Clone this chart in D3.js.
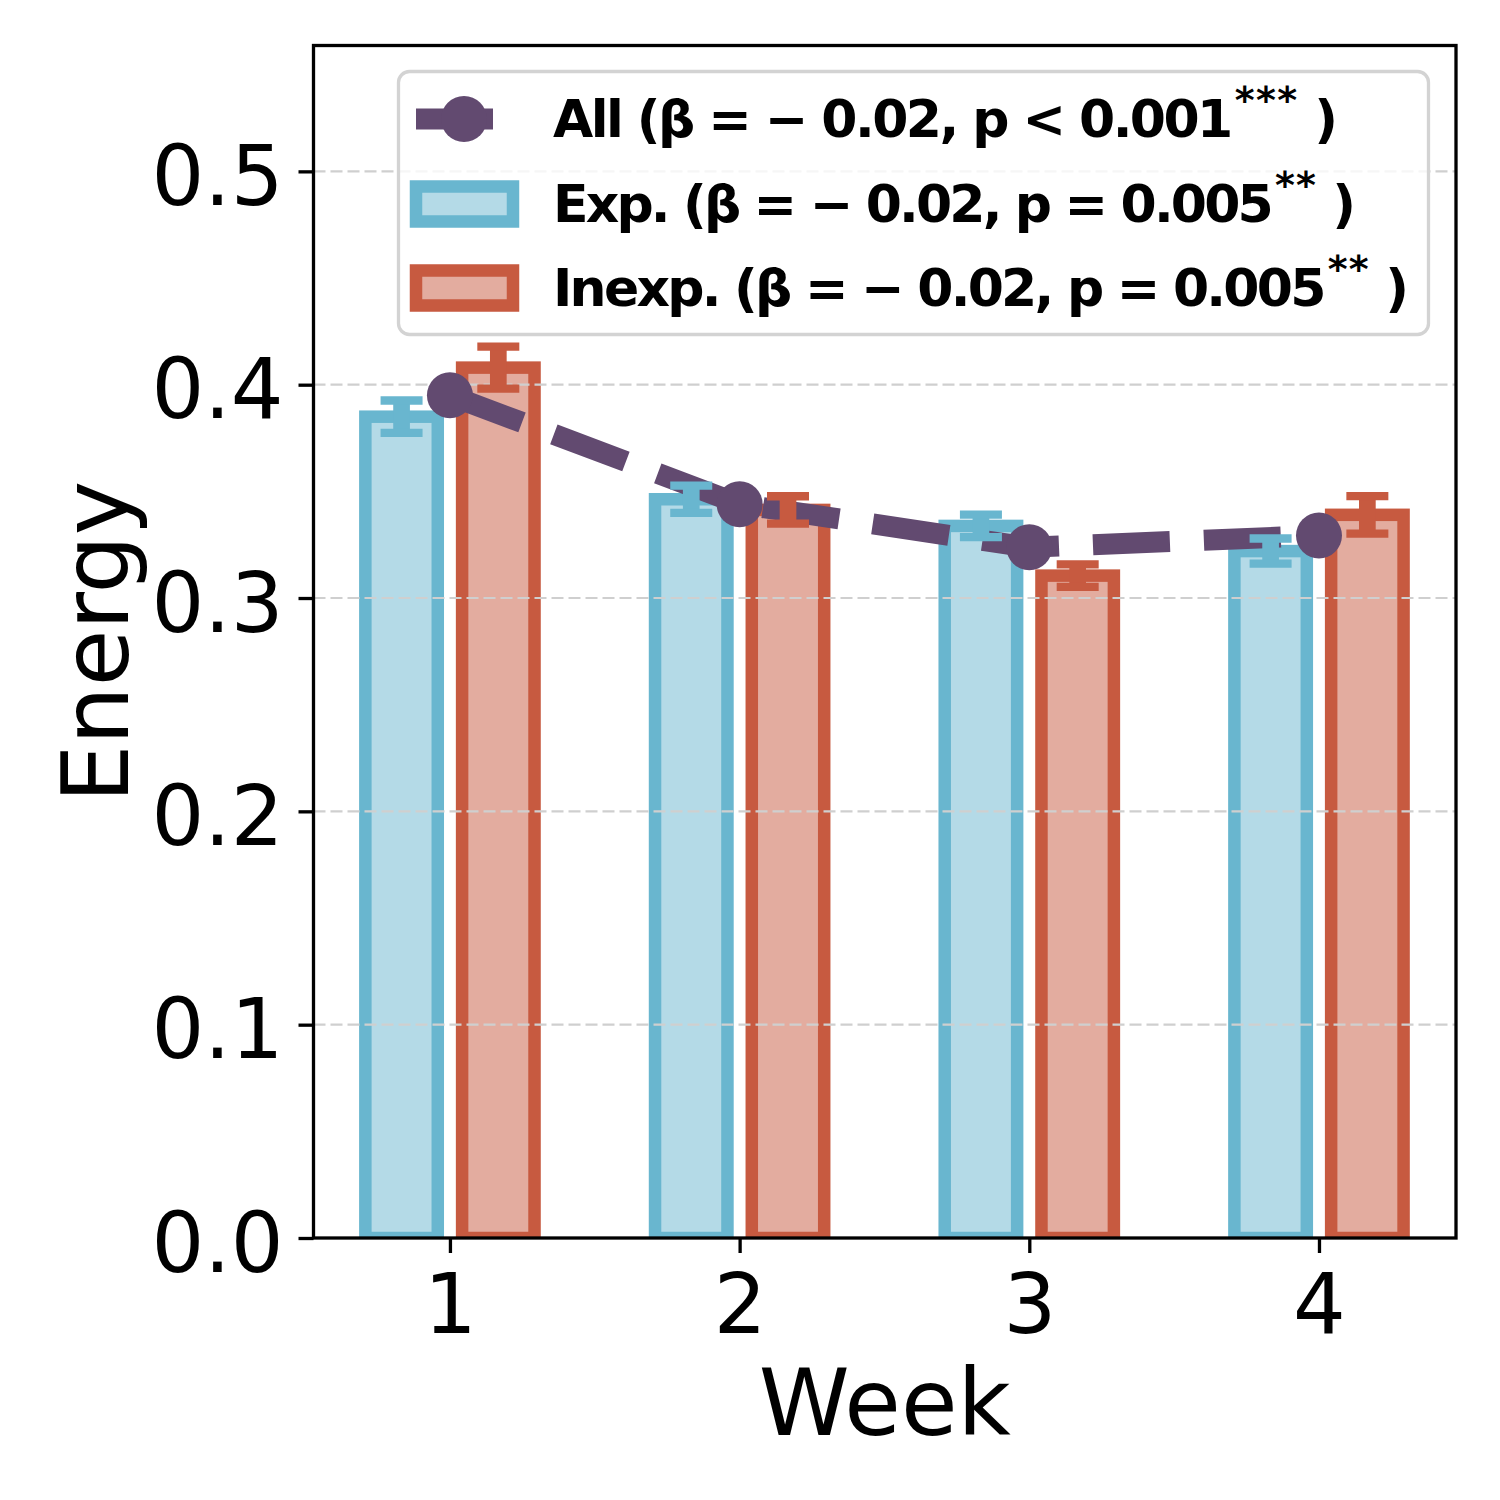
<!DOCTYPE html>
<html>
<head>
<meta charset="utf-8">
<script src="https://cdn.jsdelivr.net/npm/d3@7"></script>
<style>
  body { margin: 0; background: #fff; }
  svg { display: block; font-family: 'DejaVu Sans', sans-serif; }
</style>
</head>
<body>
<svg id="chart" width="1500" height="1500"></svg>
<script>
// Data
const weeks = [1, 2, 3, 4];
const allMean = [0.395, 0.344, 0.3238, 0.3293];
const expMean = [0.385, 0.3463, 0.3338, 0.322];
const expErr = [0.0076, 0.0064, 0.0053, 0.0059];
const inexpMean = [0.408, 0.3413, 0.3105, 0.339];
const inexpErr = [0.0098, 0.0064, 0.0053, 0.0088];
const yTicks = [0, 0.1, 0.2, 0.3, 0.4, 0.5];
const legendText = [
  'All (β = − 0.02, p < 0.001',
  'Exp. (β = − 0.02, p = 0.005',
  'Inexp. (β = − 0.02, p = 0.005',
];
const legendStars = ['***', '**', '**'];

const COLORS = { all: '#624a70', exp: '#69b6cf', inexp: '#c75a40' };

class EnergyChart {
  constructor(_config) {
    this.config = {
      parentElementSelector: _config.parentElementSelector,
      margin: _config.margin || { top: 45.5, right: 44, bottom: 262, left: 313.5 },
      totalWidth: 1500,
      totalHeight: 1500,
    };
    this.initVis();
  }

  initVis() {
    const m = this.config.margin;
    this.width = this.config.totalWidth - m.left - m.right;
    this.height = this.config.totalHeight - m.top - m.bottom;

    this.xScale = d3.scaleLinear().domain([0.529, 4.473]).range([0, this.width]);
    this.yScale = d3.scaleLinear().domain([0, 0.559]).range([this.height, 0]);

    this.svg = d3.select(this.config.parentElementSelector);
    this.chart = this.svg
      .append('g')
      .attr('transform', `translate(${m.left},${m.top})`);

    this.svg
      .append('defs')
      .append('clipPath')
      .attr('id', 'plot-clip')
      .append('rect')
      .attr('width', this.width)
      .attr('height', this.height);

    this.updateVis();
  }

  updateVis() {
    const x = this.xScale;
    const y = this.yScale;
    const bw = x(0.25) - x(0);
    const off = x(0.167) - x(0);

    const barData = [];
    weeks.forEach((w, i) => {
      barData.push({ week: w, value: expMean[i], err: expErr[i], key: 'exp', dx: -off });
      barData.push({ week: w, value: inexpMean[i], err: inexpErr[i], key: 'inexp', dx: off });
    });

    // Bars (alpha fill + solid edge)
    const barG = this.chart.append('g').attr('clip-path', 'url(#plot-clip)');
    barG
      .selectAll('.bar')
      .data(barData)
      .join('rect')
      .attr('class', 'bar')
      .attr('x', (d) => x(d.week) + d.dx - bw / 2)
      .attr('y', (d) => y(d.value))
      .attr('width', bw)
      .attr('height', (d) => y(0) - y(d.value))
      .attr('fill', (d) => COLORS[d.key])
      .attr('fill-opacity', 0.5)
      .attr('stroke', (d) => COLORS[d.key])
      .attr('stroke-width', 12.5);

    // Grid lines
    this.chart
      .append('g')
      .selectAll('.grid')
      .data(yTicks.slice(1))
      .join('line')
      .attr('class', 'grid')
      .attr('x1', 0)
      .attr('x2', this.width)
      .attr('y1', (d) => y(d))
      .attr('y2', (d) => y(d))
      .attr('stroke', '#cfcfcf')
      .attr('stroke-width', 2.2)
      .attr('stroke-dasharray', '12,5');

    // Mean line for all participants
    const line = d3
      .line()
      .x((d, i) => x(weeks[i]))
      .y((d) => y(d));
    this.chart
      .append('path')
      .datum(allMean)
      .attr('d', line)
      .attr('fill', 'none')
      .attr('stroke', COLORS.all)
      .attr('stroke-width', 21)
      .attr('stroke-dasharray', '77,34');
    this.chart
      .append('g')
      .selectAll('.dot')
      .data(allMean)
      .join('circle')
      .attr('class', 'dot')
      .attr('cx', (d, i) => x(weeks[i]))
      .attr('cy', (d) => y(d))
      .attr('r', 23)
      .attr('fill', COLORS.all);

    // Error bars
    const errG = this.chart.append('g');
    const capW = 42;
    errG
      .selectAll('.err-stem')
      .data(barData)
      .join('line')
      .attr('x1', (d) => x(d.week) + d.dx)
      .attr('x2', (d) => x(d.week) + d.dx)
      .attr('y1', (d) => y(d.value - d.err))
      .attr('y2', (d) => y(d.value + d.err))
      .attr('stroke', (d) => COLORS[d.key])
      .attr('stroke-width', 16.7);
    ['lo', 'hi'].forEach((side) => {
      errG
        .selectAll(`.cap-${side}`)
        .data(barData)
        .join('line')
        .attr('class', `cap-${side}`)
        .attr('x1', (d) => x(d.week) + d.dx - capW / 2)
        .attr('x2', (d) => x(d.week) + d.dx + capW / 2)
        .attr('y1', (d) => y(side === 'lo' ? d.value - d.err : d.value + d.err))
        .attr('y2', (d) => y(side === 'lo' ? d.value - d.err : d.value + d.err))
        .attr('stroke', (d) => COLORS[d.key])
        .attr('stroke-width', 8.3);
    });

    // Axes
    const xAxis = d3.axisBottom(x).tickValues(weeks).tickSize(15).tickPadding(21).tickFormat(d3.format('d'));
    const yAxis = d3.axisLeft(y).tickValues(yTicks).tickSize(15).tickPadding(15).tickFormat(d3.format('.1f'));

    const xAxisG = this.chart
      .append('g')
      .attr('transform', `translate(0,${this.height})`)
      .call(xAxis);
    const yAxisG = this.chart.append('g').call(yAxis);

    [xAxisG, yAxisG].forEach((g) => {
      g.select('.domain').remove();
      g.selectAll('.tick line').attr('stroke', '#000').attr('stroke-width', 3.3);
      g.selectAll('.tick text')
        .attr('fill', '#000')
        .style('font-size', '83px')
        .style('font-family', "'DejaVu Sans', sans-serif");
    });
    yAxisG.selectAll('.tick text').attr('dy', '0.4em');

    // Spines
    this.chart
      .append('rect')
      .attr('width', this.width)
      .attr('height', this.height)
      .attr('fill', 'none')
      .attr('stroke', '#000')
      .attr('stroke-width', 3.3);

    // Axis titles
    this.svg
      .append('text')
      .attr('x', this.config.margin.left + this.width / 2)
      .attr('y', 1435)
      .attr('text-anchor', 'middle')
      .style('font-size', '92px')
      .text('Week');
    this.svg
      .append('text')
      .attr('transform', `translate(128,${this.config.margin.top + this.height / 2}) rotate(-90)`)
      .attr('text-anchor', 'middle')
      .style('font-size', '92px')
      .text('Energy');

    this.drawLegend();
  }

  drawLegend() {
    const lg = this.svg.append('g').attr('class', 'legend');
    lg.append('rect')
      .attr('x', 398.5)
      .attr('y', 71.5)
      .attr('width', 1030)
      .attr('height', 263)
      .attr('rx', 11)
      .attr('fill', '#fff')
      .attr('fill-opacity', 0.8)
      .attr('stroke', '#d3d3d3')
      .attr('stroke-width', 3.3);

    const rowY = [119, 204, 288];
    const baseY = [137, 222, 306];
    const rowEnd = [1338, 1356, 1409];

    // line handle
    lg.append('line')
      .attr('x1', 416)
      .attr('x2', 512)
      .attr('y1', rowY[0])
      .attr('y2', rowY[0])
      .attr('stroke', COLORS.all)
      .attr('stroke-width', 21)
      .attr('stroke-dasharray', '77,34');
    lg.append('circle')
      .attr('cx', 464)
      .attr('cy', rowY[0])
      .attr('r', 23)
      .attr('fill', COLORS.all);

    ['exp', 'inexp'].forEach((k, i) => {
      lg.append('rect')
        .attr('x', 416)
        .attr('y', rowY[i + 1] - 17.5)
        .attr('width', 97)
        .attr('height', 35)
        .attr('fill', COLORS[k])
        .attr('fill-opacity', 0.5)
        .attr('stroke', COLORS[k])
        .attr('stroke-width', 12.5);
    });

    legendText.forEach((t, i) => {
      const txt = lg
        .append('text')
        .attr('x', 553)
        .attr('y', baseY[i])
        .style('font-size', '52px')
        .style('font-weight', 'bold');
      txt.append('tspan').text(t);
      txt
        .append('tspan')
        .attr('dy', -24)
        .attr('dx', 4)
        .style('font-size', '38px')
        .style('letter-spacing', '4px')
        .text(legendStars[i]);
      txt.append('tspan').attr('dy', 24).text(' )');
      const natural = txt.node().getComputedTextLength();
      const target = rowEnd[i] - 553;
      if (Math.abs(natural - target) < 120) {
        txt.attr('textLength', target).attr('lengthAdjust', 'spacing');
      }
    });
  }
}

new EnergyChart({ parentElementSelector: '#chart' });
</script>
</body>
</html>
